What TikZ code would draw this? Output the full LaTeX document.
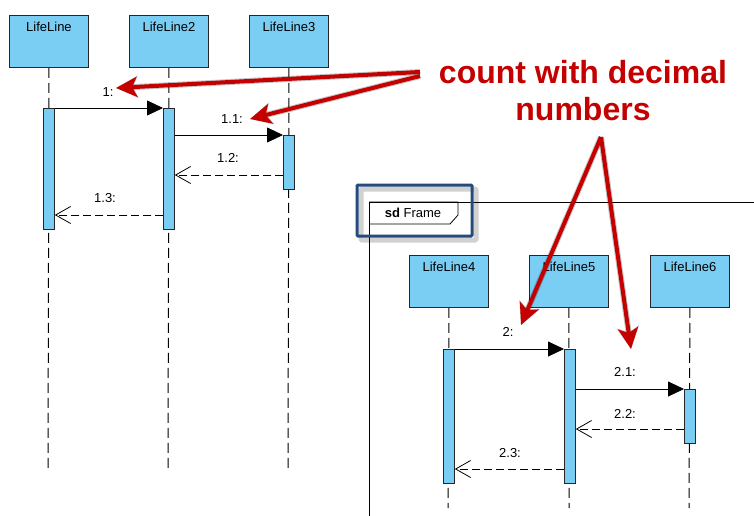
\documentclass[tikz,border=0pt]{standalone}
\usepackage{fontspec}
\setmainfont{Liberation Sans}
\usetikzlibrary{arrows.meta,calc}
\definecolor{llblue}{RGB}{122,206,244}
\definecolor{redc}{RGB}{196,0,0}
\definecolor{frameblue}{RGB}{38,74,124}
\begin{document}
\begin{tikzpicture}[x=1pt,y=-1pt,
  head/.style={draw=black!85, line width=0.9pt, fill=llblue, minimum width=79pt, minimum height=47pt,
    inner xsep=0pt, inner ysep=5pt, text height=11pt, text depth=31pt, anchor=north west,
    font=\fontsize{13}{15}\selectfont},
  bar/.style={draw=black!85, line width=0.8pt, fill=llblue, minimum width=11pt, inner sep=0pt, anchor=north west},
  lifeline/.style={draw=black, line width=1pt, dash pattern=on 10pt off 5pt},
  call/.style={draw=black, line width=0.8pt, -{Triangle[length=16pt,width=15pt]}},
  reply/.style={draw=black, line width=0.8pt, dash pattern=on 8pt off 4pt, -{Straight Barb[length=15pt,width=17pt]}},
  msglabel/.style={font=\fontsize{13}{15}\selectfont, inner sep=0pt},
  redarrow/.style={draw=redc, line width=4pt, -{Stealth[length=21pt,width=20pt,inset=5pt]}},
  arrowshadow/.style={draw=black, opacity=0.22, line width=6pt, -{Stealth[length=22pt,width=22pt,inset=5pt]}},
  note/.style={text=redc, font=\fontsize{32}{37}\selectfont\bfseries, align=center, inner sep=0pt}
]
\useasboundingbox (0,0) rectangle (754,516);
\fill[white] (0,0) rectangle (754,516);

% ---------- frame ----------
\fill[white] (369,202) -- (458,202) -- (458,215) -- (450,224) -- (369,224) -- cycle;
\draw[line width=0.9pt] (754,202) -- (369,202) -- (369,516);
\draw[line width=0.8pt] (369,202) -- (458,202) -- (458,215) -- (450,224) -- (369,224);
\node[inner sep=0pt, font=\fontsize{13}{15}\selectfont] (tab) at (413,213) {\textbf{sd} Frame};
% highlight box with shadow
\draw[black, opacity=0.18, line width=5pt, rounded corners=1pt] (361,189) rectangle (476,240);
\draw[frameblue, line width=3pt, rounded corners=1pt] (357,185) rectangle (472,236);

% ---------- lifeline heads ----------
\node[head] (ll1) at (9,15) {LifeLine};
\node[head] (ll2) at (129,15) {LifeLine2};
\node[head] (ll3) at (249,15) {LifeLine3};
\node[head] (ll4) at (409,255) {LifeLine4};
\node[head] (ll5) at (529,255) {LifeLine5};
\node[head] (ll6) at (650,255) {LifeLine6};

\coordinate (e1) at (48,469);
\coordinate (e2) at (168,469);
\coordinate (e3) at (288,469);
\coordinate (e4) at (448,508);
\coordinate (e5) at (569,508);
\coordinate (e6) at (689,508);
\draw[lifeline] (ll1.south) -- (e1);
\draw[lifeline] (ll2.south) -- (e2);
\draw[lifeline] (ll3.south) -- (e3);
\draw[lifeline] (ll4.south) -- (e4);
\draw[lifeline] (ll5.south) -- (e5);
\draw[lifeline] (ll6.south) -- (e6);

% ---------- activation bars ----------
\node[bar, minimum height=121pt] (b1) at (43,108) {};
\node[bar, minimum height=121pt] (b2) at (163,108) {};
\node[bar, minimum height=54pt]  (b3) at (283,135) {};
\node[bar, minimum height=134pt] (b4) at (443,349) {};
\node[bar, minimum height=134pt] (b5) at (564,349) {};
\node[bar, minimum height=54pt]  (b6) at (684,389) {};

% ---------- messages ----------
\coordinate (y12) at (0,175);
\coordinate (y13) at (0,215);
\coordinate (y22) at (0,429);
\coordinate (y23) at (0,469);

\draw[call] (b1.north east) -- (b2.north west);
\draw[call] (b2.east |- b3.north) -- (b3.north west);
\draw[reply] (b3.west |- y12) -- (b2.east |- y12);
\draw[reply] (b2.west |- y13) -- (b1.east |- y13);

\draw[call] (b4.north east) -- (b5.north west);
\draw[call] (b5.east |- b6.north) -- (b6.north west);
\draw[reply] (b6.west |- y22) -- (b5.east |- y22);
\draw[reply] (b5.west |- y23) -- (b4.east |- y23);

\node[msglabel] (l1)  at (108,92) {1:};
\node[msglabel] (l11) at (232,119) {1.1:};
\node[msglabel] (l12) at (228,158) {1.2:};
\node[msglabel] (l13) at (105,198) {1.3:};
\node[msglabel] (l2)  at (508,332) {2:};
\node[msglabel] (l21) at (625,372) {2.1:};
\node[msglabel] (l22) at (625,414) {2.2:};
\node[msglabel] (l23) at (510,453) {2.3:};

% ---------- note and red arrows ----------
\node[note, anchor=north] (note) at (583,60) {count with decimal\\numbers};
\coordinate (t1) at (420,72);
\coordinate (t2) at (420,76);
\coordinate (t3) at (601,137);
\coordinate (h1) at (116,88);
\coordinate (h2) at (250,119);
\coordinate (h3) at (521,325);
\coordinate (h4) at (631,349);

\begin{scope}[shift={(4,5)}]
\draw[arrowshadow] (t1) -- (h1);
\draw[arrowshadow] (t2) -- (h2);
\draw[arrowshadow] (t3) -- (h3);
\draw[arrowshadow] (t3) -- (h4);
\end{scope}
\draw[redarrow] (t1) -- (h1);
\draw[redarrow] (t2) -- (h2);
\draw[redarrow] (t3) -- (h3);
\draw[redarrow] (t3) -- (h4);
\end{tikzpicture}
\end{document}
